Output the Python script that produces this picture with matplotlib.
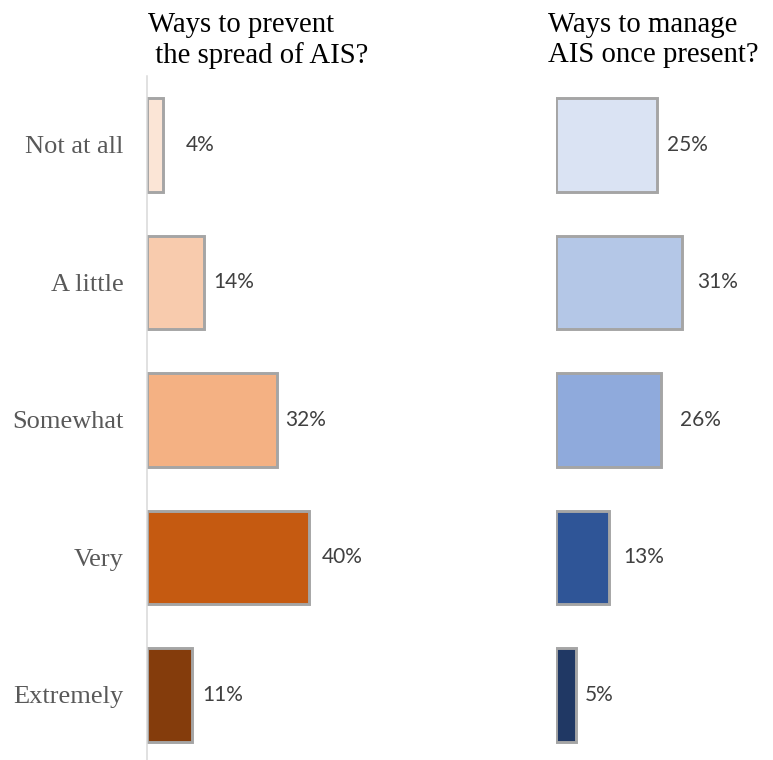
#!/usr/bin/env python3
"""Side-by-side horizontal bars: perceived knowledge of AIS prevention vs. management."""

import matplotlib

matplotlib.use("Agg")
import matplotlib.pyplot as plt

FIG_W_PX, FIG_H_PX, DPI = 773, 760, 100

CATEGORIES = ["Not at all", "A little", "Somewhat", "Very", "Extremely"]
PREVENT_TITLE = "Ways to prevent\n the spread of AIS?"
MANAGE_TITLE = "Ways to manage\nAIS once present?"
PREVENT_PCT = [4, 14, 32, 40, 11]
MANAGE_PCT = [25, 31, 26, 13, 5]

PREVENT_COLORS = ["#FBE5D6", "#F8CBAD", "#F4B183", "#C55A11", "#843C0C"]
MANAGE_COLORS = ["#DAE3F3", "#B4C7E7", "#8FAADC", "#2F5597", "#203864"]

# gap in pixels between each bar end and its value label
PREVENT_GAP_PX = [21, 8, 7, 11, 9]
MANAGE_GAP_PX = [8, 14, 17, 13, 7]

SERIF = "Liberation Serif"
LABEL_FONT = "Lato"
EDGE = "#A5A5A5"
X_MAX = 45.0


def px_to_fig(x_px, y_px):
    return x_px / FIG_W_PX, 1 - y_px / FIG_H_PX


def draw_panel(ax, values, colors, gaps, show_axis):
    ypos = list(range(len(values)))
    ax.barh(ypos, values, height=0.68, color=colors, edgecolor=EDGE, linewidth=2.1)
    ax.set_xlim(0, X_MAX)
    ax.set_ylim(len(values) - 0.5, -0.5)
    ax.set_xticks([])
    for side in ("top", "right", "bottom"):
        ax.spines[side].set_visible(False)
    if show_axis:
        ax.spines["left"].set_color("#D9D9D9")
        ax.spines["left"].set_linewidth(1.1)
        ax.set_yticks(ypos)
        ax.set_yticklabels(CATEGORIES, family=SERIF, fontsize=19, color="#595959")
        ax.tick_params(axis="y", length=0, pad=17)
    else:
        ax.spines["left"].set_visible(False)
        ax.set_yticks([])

    for y, v, gap in zip(ypos, values, gaps):
        ax.annotate(
            f"{v}%",
            xy=(v, y),
            xytext=((gap + 1.4) * 72 / DPI, 0),
            textcoords="offset points",
            ha="left",
            va="center",
            family=LABEL_FONT,
            fontsize=15,
            color="#404040",
        )


def main() -> None:
    fig = plt.figure(figsize=(FIG_W_PX / DPI, FIG_H_PX / DPI), dpi=DPI)

    width = X_MAX * 4.05 / FIG_W_PX
    top_px, bottom_px = 76.0, 763.5
    height = (bottom_px - top_px) / FIG_H_PX
    bottom = (FIG_H_PX - bottom_px) / FIG_H_PX

    ax_left = fig.add_axes([147 / FIG_W_PX, bottom, width, height])
    ax_right = fig.add_axes([556 / FIG_W_PX, bottom, width, height])
    ax_left.patch.set_alpha(0)
    ax_right.patch.set_alpha(0)

    draw_panel(ax_left, PREVENT_PCT, PREVENT_COLORS, PREVENT_GAP_PX, show_axis=True)
    draw_panel(ax_right, MANAGE_PCT, MANAGE_COLORS, MANAGE_GAP_PX, show_axis=False)

    for x_px, title in ((148, PREVENT_TITLE), (548, MANAGE_TITLE)):
        fx, fy = px_to_fig(x_px, 12)
        fig.text(fx, fy, title, ha="left", va="top", family=SERIF, fontsize=20.7, color="black")

    fig.savefig("out.png", dpi=DPI)
    plt.close(fig)


if __name__ == "__main__":
    main()
